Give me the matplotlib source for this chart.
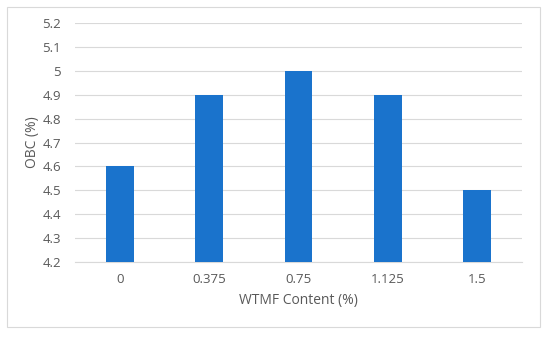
import matplotlib.pyplot as plt
from matplotlib.patches import Rectangle

categories = ["0", "0.375", "0.75", "1.125", "1.5"]
obc = [4.6, 4.9, 5.0, 4.9, 4.5]
yticks = [4.2, 4.3, 4.4, 4.5, 4.6, 4.7, 4.8, 4.9, 5.0, 5.1, 5.2]
ytick_labels = ["4.2", "4.3", "4.4", "4.5", "4.6", "4.7", "4.8", "4.9", "5", "5.1", "5.2"]

plt.rcParams['font.family'] = ['Open Sans', 'DejaVu Sans']

fig = plt.figure(figsize=(5.5, 3.37), dpi=100)
fig.patches.append(Rectangle((7 / 550, 1 - 327 / 337), 533 / 550, 320 / 337,
                             transform=fig.transFigure, fill=False,
                             edgecolor='#d9d9d9', linewidth=0.8))

ax = fig.add_axes([75 / 550, 1 - 262 / 337, 447 / 550, 239 / 337])
x = range(len(categories))
ax.bar(x, [v - 4.2 for v in obc], bottom=4.2, width=0.31, color='#1a73cc', zorder=3)

ax.set_xlim(-0.5, len(categories) - 0.5)
ax.set_ylim(4.2, 5.2)
ax.set_yticks(yticks)
ax.set_yticklabels(ytick_labels)
ax.set_xticks(list(x))
ax.set_xticklabels(categories)
ax.grid(axis='y', color='#d9d9d9', linewidth=0.8, zorder=0)
for s in ['top', 'right', 'left']:
    ax.spines[s].set_visible(False)
ax.spines['bottom'].set_color('#d9d9d9')
ax.tick_params(length=0, labelsize=9.5, labelcolor='#595959')
ax.tick_params(axis='y', pad=10)
ax.tick_params(axis='x', pad=8)
ax.set_xlabel('WTMF Content (%)', fontsize=10, color='#595959', labelpad=5)
ax.set_ylabel('OBC (%)', fontsize=10, color='#595959')
ax.yaxis.set_label_coords(-0.078, 0.5)

fig.savefig('out.png', dpi=100)
